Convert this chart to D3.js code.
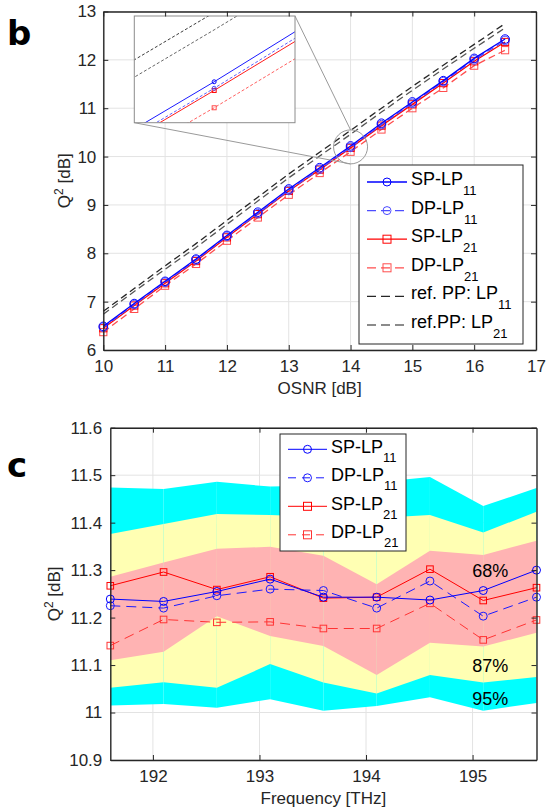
<!DOCTYPE html>
<html>
<head>
<meta charset="utf-8">
<script src="https://cdn.jsdelivr.net/npm/d3@7"></script>
<style>
  body { margin: 0; background: #fff; }
  svg { display: block; font-family: "Liberation Sans", Arial, sans-serif; }
</style>
</head>
<body>
<svg id="chart" width="546" height="811"></svg>
<script>
// ---- panel b: Q^2 vs OSNR ----
const osnr = [10, 10.5, 11, 11.5, 12, 12.5, 13, 13.5, 14, 14.5, 15, 15.5, 16, 16.5];
const spLP11 = [6.49, 6.96, 7.42, 7.88, 8.37, 8.85, 9.33, 9.77, 10.22, 10.69, 11.13, 11.57, 12.03, 12.43];
const dpLP11 = [6.47, 6.94, 7.40, 7.86, 8.35, 8.82, 9.30, 9.74, 10.19, 10.66, 11.10, 11.55, 12.00, 12.40];
const spLP21 = [6.45, 6.92, 7.38, 7.84, 8.33, 8.81, 9.29, 9.73, 10.18, 10.64, 11.08, 11.52, 11.97, 12.37];
const dpLP21 = [6.37, 6.85, 7.33, 7.78, 8.26, 8.74, 9.21, 9.66, 10.10, 10.56, 11.00, 11.42, 11.88, 12.20];
const refLP11 = [6.80, 7.27, 7.74, 8.20, 8.68, 9.16, 9.64, 10.09, 10.54, 11.00, 11.45, 11.89, 12.32, 12.75];
const refLP21 = [6.74, 7.21, 7.67, 8.12, 8.60, 9.08, 9.56, 10.01, 10.46, 10.92, 11.37, 11.81, 12.24, 12.66];
const osnrTicks = [10, 11, 12, 13, 14, 15, 16, 17];
const qTicksB = [6, 7, 8, 9, 10, 11, 12, 13];
const zoomOsnr = [13.757, 14.246];   // inset window
const zoomQ = [10.031, 10.524];

// ---- panel c: Q^2 vs frequency ----
const freq = [191.6, 192.1, 192.6, 193.1, 193.6, 194.1, 194.6, 195.1, 195.6];
const cSP11 = [11.239, 11.234, 11.255, 11.281, 11.243, 11.243, 11.237, 11.257, 11.300];
const cDP11 = [11.225, 11.220, 11.246, 11.260, 11.257, 11.220, 11.277, 11.203, 11.243];
const cSP21 = [11.267, 11.296, 11.259, 11.286, 11.241, 11.243, 11.302, 11.236, 11.263];
const cDP21 = [11.141, 11.196, 11.190, 11.191, 11.177, 11.177, 11.230, 11.153, 11.195];
const hi95 = [11.474, 11.471, 11.486, 11.476, 11.478, 11.485, 11.496, 11.435, 11.473];
const hi87 = [11.376, 11.397, 11.418, 11.416, 11.412, 11.410, 11.416, 11.379, 11.423];
const hi68 = [11.286, 11.316, 11.345, 11.349, 11.330, 11.270, 11.341, 11.332, 11.362];
const lo68 = [11.110, 11.128, 11.203, 11.161, 11.140, 11.079, 11.147, 11.139, 11.168];
const lo87 = [11.052, 11.064, 11.052, 11.102, 11.063, 11.040, 11.079, 11.063, 11.075];
const lo95 = [11.015, 11.018, 11.010, 11.028, 11.004, 11.014, 11.032, 11.004, 11.020];
const freqTicks = [192, 193, 194, 195];
const qTicksC = [10.9, 11, 11.1, 11.2, 11.3, 11.4, 11.5, 11.6];

const svg = d3.select("#chart");
const ink = "#262626";
const gridColor = "#e3e3e3";

function drawGrid(g, x, y, xt, yt) {
  const [x0, x1] = x.range(), [y0, y1] = y.range();
  g.append("g").selectAll("line").data(xt).join("line")
    .attr("x1", d => x(d)).attr("x2", d => x(d)).attr("y1", y0).attr("y2", y1)
    .attr("stroke", gridColor).attr("stroke-width", 1);
  g.append("g").selectAll("line").data(yt).join("line")
    .attr("y1", d => y(d)).attr("y2", d => y(d)).attr("x1", x0).attr("x2", x1)
    .attr("stroke", gridColor).attr("stroke-width", 1);
}

function drawFrame(g, x, y, xt, yt, xPad, yPad, yFmt) {
  const [x0, x1] = x.range(), [y0, y1] = y.range();
  const style = sel => {
    sel.select(".domain").attr("stroke", ink).attr("stroke-width", 1.4);
    sel.selectAll(".tick line").attr("stroke", ink).attr("stroke-width", 1);
    sel.selectAll("text").attr("fill", ink).attr("font-size", 17)
      .attr("font-family", "Liberation Sans, Arial, sans-serif");
  };
  g.append("g").attr("transform", `translate(0,${y0})`)
    .call(d3.axisBottom(x).tickValues(xt).tickSize(-5).tickSizeOuter(0).tickPadding(xPad).tickFormat(d3.format("d")))
    .call(style);
  g.append("g").attr("transform", `translate(0,${y1})`)
    .call(d3.axisTop(x).tickValues(xt).tickSize(-5).tickSizeOuter(0).tickFormat(""))
    .call(style);
  g.append("g").attr("transform", `translate(${x0},0)`)
    .call(d3.axisLeft(y).tickValues(yt).tickSize(-5).tickSizeOuter(0).tickPadding(yPad).tickFormat(yFmt))
    .call(style);
  g.append("g").attr("transform", `translate(${x1},0)`)
    .call(d3.axisRight(y).tickValues(yt).tickSize(-5).tickSizeOuter(0).tickFormat(""))
    .call(style);
  g.selectAll(".domain").attr("fill", "none");
}

function marker(g, shape, cx, cy, size, color) {
  if (shape === "o") {
    g.append("circle").attr("cx", cx).attr("cy", cy).attr("r", size)
      .attr("fill", "none").attr("stroke", color).attr("stroke-width", 1);
  } else {
    g.append("rect").attr("x", cx - size).attr("y", cy - size)
      .attr("width", size * 2).attr("height", size * 2)
      .attr("fill", "none").attr("stroke", color).attr("stroke-width", 1);
  }
}

function series(g, x, y, xs, ys, s, mSize, lw, dash) {
  const line = d3.line().x((d, i) => x(xs[i])).y(d => y(d));
  g.append("path").datum(ys).attr("d", line)
    .attr("fill", "none").attr("stroke", s.color).attr("stroke-width", lw)
    .attr("stroke-dasharray", s.dashed ? dash : null);
  if (s.shape) ys.forEach((v, i) => marker(g, s.shape, x(xs[i]), y(v), mSize, s.color));
}

function legend(g, box, rows, opt) {
  g.append("rect").attr("x", box[0]).attr("y", box[1]).attr("width", box[2]).attr("height", box[3])
    .attr("fill", "#fff").attr("stroke", ink).attr("stroke-width", 1);
  rows.forEach((r, i) => {
    const ly = opt.y0 + i * opt.step;
    g.append("line").attr("x1", opt.lx0).attr("x2", opt.lx1).attr("y1", ly).attr("y2", ly)
      .attr("stroke", r.color).attr("stroke-width", opt.lw)
      .attr("stroke-dasharray", r.dashed ? opt.dash : null);
    if (r.shape) marker(g, r.shape, (opt.lx0 + opt.lx1) / 2, ly, opt.m, r.color);
    const t = g.append("text").attr("x", opt.tx).attr("y", ly + opt.base)
      .attr("font-size", 18).attr("fill", "#000");
    t.append("tspan").text(r.name);
    t.append("tspan").attr("font-size", 13).attr("dy", opt.subDy).text(r.sub);
  });
}

// ================= panel b =================
const xb = d3.scaleLinear().domain([10, 17]).range([103.3, 536]);
const yb = d3.scaleLinear().domain([6, 13]).range([350, 11.5]);
const gb = svg.append("g");
drawGrid(gb, xb, yb, osnrTicks, qTicksB);

const seriesB = [
  { ys: refLP11, color: "#262626", dashed: true },
  { ys: refLP21, color: "#555555", dashed: true },
  { ys: dpLP21, color: "#ff4d4d", dashed: true, shape: "s" },
  { ys: spLP21, color: "#ff0000", shape: "s" },
  { ys: dpLP11, color: "#4d4dff", dashed: true, shape: "o" },
  { ys: spLP11, color: "#0000ff", shape: "o" }
];
seriesB.forEach(s => series(gb, xb, yb, osnr, s.ys, s, s.shape === "o" ? 4.3 : 3.6, 1.3, "7,4"));

// zoom circle and connectors
const cx = xb(14), cy = yb(10.2), cr = 17;
gb.append("circle").attr("cx", cx).attr("cy", cy).attr("r", cr)
  .attr("fill", "none").attr("stroke", "#9a9a9a").attr("stroke-width", 1);
const inset = { x: 134.3, y: 16, w: 160.7, h: 106.7 };
gb.append("line").attr("x1", inset.x).attr("y1", inset.y + inset.h).attr("x2", cx).attr("y2", cy + cr)
  .attr("stroke", "#9a9a9a").attr("stroke-width", 1);
gb.append("line").attr("x1", inset.x + inset.w).attr("y1", inset.y).attr("x2", cx).attr("y2", cy - cr)
  .attr("stroke", "#9a9a9a").attr("stroke-width", 1);

// inset
const xi = d3.scaleLinear().domain(zoomOsnr).range([inset.x, inset.x + inset.w]);
const yi = d3.scaleLinear().domain(zoomQ).range([inset.y + inset.h, inset.y]);
svg.append("defs").append("clipPath").attr("id", "insetClip")
  .append("rect").attr("x", inset.x).attr("y", inset.y).attr("width", inset.w).attr("height", inset.h);
gb.append("rect").attr("x", inset.x).attr("y", inset.y).attr("width", inset.w).attr("height", inset.h)
  .attr("fill", "#fff");
const gi = gb.append("g").attr("clip-path", "url(#insetClip)");
seriesB.forEach(s => series(gi, xi, yi, osnr, s.ys, s, 2, 0.9, "3,2"));
gb.append("rect").attr("x", inset.x).attr("y", inset.y).attr("width", inset.w).attr("height", inset.h)
  .attr("fill", "none").attr("stroke", "#8c8c8c").attr("stroke-width", 1);

legend(gb, [359, 165, 164, 179], [
  { name: "SP-LP", sub: "11", color: "#0000ff", shape: "o" },
  { name: "DP-LP", sub: "11", color: "#4d4dff", shape: "o", dashed: true },
  { name: "SP-LP", sub: "21", color: "#ff0000", shape: "s" },
  { name: "DP-LP", sub: "21", color: "#ff4d4d", shape: "s", dashed: true },
  { name: "ref. PP: LP", sub: "11", color: "#262626", dashed: true },
  { name: "ref.PP: LP", sub: "21", color: "#666666", dashed: true }
], { y0: 182, step: 28.6, lx0: 367, lx1: 407, tx: 411, base: 3, subDy: 10, lw: 1.3, m: 4, dash: "9,5" });

drawFrame(gb, xb, yb, osnrTicks, qTicksB, 10, 7, d3.format("d"));

gb.append("text").attr("x", (xb.range()[0] + xb.range()[1]) / 2).attr("y", 394)
  .attr("text-anchor", "middle").attr("font-size", 17).attr("fill", ink).text("OSNR [dB]");
const qb = gb.append("text").attr("transform", `translate(70,${(yb.range()[0] + yb.range()[1]) / 2}) rotate(-90)`)
  .attr("text-anchor", "middle").attr("font-size", 17).attr("fill", ink);
qb.append("tspan").text("Q");
qb.append("tspan").attr("font-size", 12).attr("dy", -7).text("2");
qb.append("tspan").attr("dy", 7).text(" [dB]");

svg.append("text").attr("x", 7).attr("y", 45).attr("font-family", "DejaVu Sans, sans-serif")
  .attr("font-weight", "bold").attr("font-size", 34).text("b");

// ================= panel c =================
const xc = d3.scaleLinear().domain([191.6, 195.6]).range([110.3, 536.5]);
const yc = d3.scaleLinear().domain([10.9, 11.6]).range([760, 427.7]);
const gc = svg.append("g");
drawGrid(gc, xc, yc, freqTicks, qTicksC);

const bands = [
  { lo: lo95, hi: hi95, color: "#00ffff" },
  { lo: lo87, hi: hi87, color: "#ffffb3" },
  { lo: lo68, hi: hi68, color: "#ffb3b3" }
];
const area = d3.area().x(d => xc(d.f)).y0(d => yc(d.lo)).y1(d => yc(d.hi));
bands.forEach(b => {
  // one patch per frequency interval, like the original's segmented fill
  for (let i = 0; i < freq.length - 1; i++) {
    const pts = [i, i + 1].map(j => ({ f: freq[j], lo: b.lo[j], hi: b.hi[j] }));
    gc.append("path").datum(pts).attr("d", area).attr("fill", b.color);
  }
});

const seriesC = [
  { ys: cDP21, color: "#ff3333", dashed: true, shape: "s" },
  { ys: cSP21, color: "#ff0000", shape: "s" },
  { ys: cDP11, color: "#1a1aff", dashed: true, shape: "o" },
  { ys: cSP11, color: "#0000ff", shape: "o" }
];
seriesC.forEach(s => series(gc, xc, yc, freq, s.ys, s, s.shape === "o" ? 4 : 3.3, 1, "10,6"));

gc.append("g").selectAll("text").data([
  { t: "68%", v: 11.285 }, { t: "87%", v: 11.085 }, { t: "95%", v: 11.015 }
]).join("text")
  .attr("x", xc(195.1) + 7).attr("y", d => yc(d.v)).attr("text-anchor", "middle")
  .attr("font-size", 18).attr("fill", "#000").text(d => d.t);

legend(gc, [280, 434, 126, 117], [
  { name: "SP-LP", sub: "11", color: "#0000ff", shape: "o" },
  { name: "DP-LP", sub: "11", color: "#1a1aff", shape: "o", dashed: true },
  { name: "SP-LP", sub: "21", color: "#ff0000", shape: "s" },
  { name: "DP-LP", sub: "21", color: "#ff3333", shape: "s", dashed: true }
], { y0: 449.3, step: 28.5, lx0: 288, lx1: 327, tx: 331, base: 3.4, subDy: 9, lw: 1, m: 4, dash: "8,6" });

drawFrame(gc, xc, yc, freqTicks, qTicksC, 10, 8, d => d3.format(".1f")(d).replace(/\.0$/, ""));

gc.append("text").attr("x", (xc.range()[0] + xc.range()[1]) / 2).attr("y", 804)
  .attr("text-anchor", "middle").attr("font-size", 17).attr("fill", ink).text("Frequency [THz]");
const qc = gc.append("text").attr("transform", `translate(60,${(yc.range()[0] + yc.range()[1]) / 2}) rotate(-90)`)
  .attr("text-anchor", "middle").attr("font-size", 17).attr("fill", ink);
qc.append("tspan").text("Q");
qc.append("tspan").attr("font-size", 12).attr("dy", -7).text("2");
qc.append("tspan").attr("dy", 7).text(" [dB]");

svg.append("text").attr("x", 7).attr("y", 477).attr("font-family", "DejaVu Sans, sans-serif")
  .attr("font-weight", "bold").attr("font-size", 34).text("c");
</script>
</body>
</html>
